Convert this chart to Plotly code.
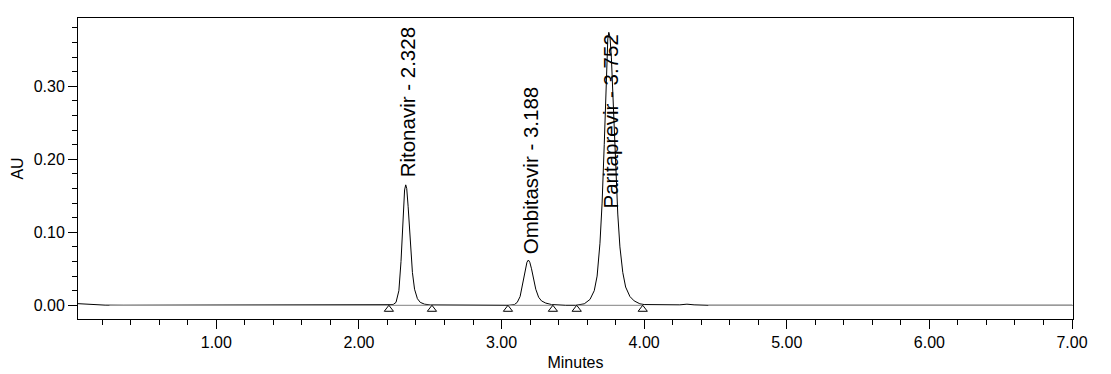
import plotly.graph_objects as go

# ---- data ----
trace_time = [0.03, 0.08, 0.14, 0.22, 0.35, 1.00, 2.00, 2.20, 2.24, 2.26, 2.28, 2.295, 2.31, 2.32, 2.328,
              2.335, 2.345, 2.36, 2.375, 2.39, 2.41, 2.43, 2.46, 2.50, 2.80,
              3.05, 3.09, 3.11, 3.13, 3.15, 3.165, 3.178, 3.188, 3.198, 3.21, 3.225, 3.24,
              3.26, 3.28, 3.31, 3.35, 3.45,
              3.52, 3.58, 3.62, 3.65, 3.67, 3.69, 3.705, 3.72, 3.735, 3.745, 3.752, 3.76,
              3.77, 3.785, 3.80, 3.815, 3.83, 3.85, 3.87, 3.90, 3.93, 3.97, 4.00,
              4.20, 4.25, 4.30, 4.35, 4.45, 5.00, 6.00, 7.00]
trace_au = [0.0022, 0.0016, 0.0008, 0.0002, 0.0, 0.0, 0.0, 0.0, 0.001, 0.004, 0.020, 0.060, 0.125, 0.158, 0.165,
            0.160, 0.135, 0.085, 0.045, 0.022, 0.009, 0.004, 0.0015, 0.0005, 0.0,
            0.0, 0.001, 0.004, 0.012, 0.030, 0.048, 0.059, 0.062, 0.059, 0.050, 0.035, 0.022,
            0.011, 0.006, 0.003, 0.001, 0.0,
            0.0, 0.002, 0.008, 0.020, 0.040, 0.085, 0.140, 0.220, 0.320, 0.365, 0.374, 0.368,
            0.340, 0.270, 0.190, 0.125, 0.080, 0.045, 0.025, 0.012, 0.006, 0.002, 0.001,
            0.0, 0.0006, 0.0015, 0.0006, 0.0, 0.0, 0.0, 0.0]

peak_names = ["Ritonavir", "Ombitasvir", "Paritaprevir"]
peak_times = [2.328, 3.188, 3.752]
label_bottom = [0.1745, 0.068, 0.1305]

integration_start = [2.21, 3.045, 3.527]
integration_end = [2.512, 3.36, 3.99]

x_ticks = [1, 2, 3, 4, 5, 6, 7]
y_ticks = [0.0, 0.1, 0.2, 0.3]

fig = go.Figure()

# signal trace
fig.add_trace(go.Scatter(x=trace_time, y=trace_au, mode="lines",
                         line=dict(color="black", width=1), hoverinfo="skip"))

# grey baseline segments
gray_x, gray_y = [], []
for s, e in [(0.25, integration_start[0])] + list(zip(integration_start, integration_end)) + [(4.45, 7.007)]:
    gray_x += [s, e, None]
    gray_y += [0, 0, None]
fig.add_trace(go.Scatter(x=gray_x, y=gray_y, mode="lines",
                         line=dict(color="#9a9a9a", width=1.2), hoverinfo="skip"))

# integration markers
marks = integration_start + integration_end
fig.add_trace(go.Scatter(x=marks, y=[-0.0055] * len(marks), mode="markers",
                         marker=dict(symbol="triangle-up-open", size=8,
                                     color="black", line=dict(width=1, color="black")),
                         hoverinfo="skip"))

for name, t, yb in zip(peak_names, peak_times, label_bottom):
    fig.add_annotation(x=t + 0.012, y=yb, text=f"{name} - {t:.3f}", textangle=-90,
                       showarrow=False, xanchor="center", yanchor="bottom",
                       font=dict(family="Liberation Sans, Arial", size=20.5, color="black"),
                       borderpad=0)

axis_font = dict(family="Liberation Sans, Arial", size=16, color="black")
fig.update_layout(
    width=1103, height=366,
    margin=dict(l=70, r=38, t=10, b=55),
    plot_bgcolor="white", paper_bgcolor="white",
    showlegend=False,
    font=axis_font,
    xaxis=dict(range=[0.03, 7.007], tickvals=x_ticks, ticktext=[f"{v:.2f}" for v in x_ticks],
               ticks="outside", ticklen=9, tickcolor="black", tickwidth=1,
               minor=dict(dtick=0.2, tick0=0, ticks="outside", ticklen=5, tickcolor="black"),
               showline=True, linecolor="black", linewidth=1, mirror=True,
               showgrid=False, zeroline=False, automargin=False,
               title=dict(text="Minutes", font=axis_font, standoff=6),
               tickfont=axis_font),
    yaxis=dict(range=[-0.0188, 0.3936], tickvals=y_ticks, ticktext=[f"{v:.2f}" for v in y_ticks],
               ticks="outside", ticklen=9, tickcolor="black", tickwidth=1,
               minor=dict(dtick=0.02, tick0=0, ticks="outside", ticklen=5, tickcolor="black"),
               showline=True, linecolor="black", linewidth=1, mirror=True,
               showgrid=False, zeroline=False, automargin=False,
               title=dict(text="AU", font=axis_font, standoff=6),
               tickfont=axis_font),
)

fig.write_html("out.html")
